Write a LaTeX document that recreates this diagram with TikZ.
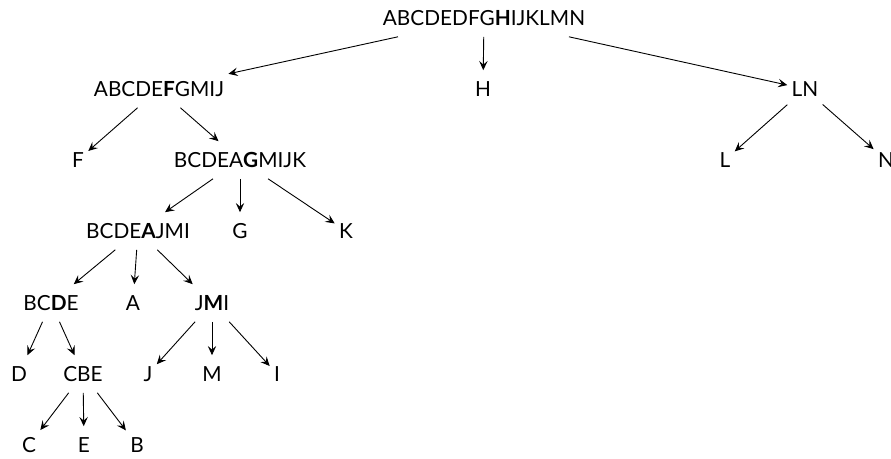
\documentclass[tikz,border=0pt]{standalone}
\usepackage{fontspec}
\setmainfont{Lato}
\usetikzlibrary{arrows.meta}
\begin{document}
\begin{tikzpicture}[x=0.5pt,y=-0.5pt,
  lbl/.style={font=\fontsize{10.4}{12}\selectfont, text height=7.4pt, text depth=0pt,
              inner xsep=2pt, inner ysep=5.5pt},
  edge/.style={-{Stealth[length=4.6pt,width=4.2pt,inset=1.8pt]}, line width=0.45pt}]
\useasboundingbox (0,0) rectangle (891,459);
% level 0
\node[lbl] (r)   at (484,18)  {ABCDEDFG\textbf{H}IJKLMN};
% level 1
\node[lbl] (a)   at (159,89)  {ABCDE\textbf{F}GMIJ};
\node[lbl] (h)   at (483,89)  {H};
\node[lbl] (ln)  at (805,89)  {LN};
% level 2
\node[lbl] (f)   at (78,160)  {F};
\node[lbl] (b)   at (240,160) {BCDEA\textbf{G}MIJK};
\node[lbl] (l)   at (725,160) {L};
\node[lbl] (n)   at (886,160) {N};
% level 3
\node[lbl] (c)   at (138,231) {BCDE\textbf{A}JMI};
\node[lbl] (g)   at (240,231) {G};
\node[lbl] (k)   at (346,231) {K};
% level 4
\node[lbl] (d)   at (51,303)  {BC\textbf{D}E};
\node[lbl] (aa)  at (133,303) {A};
\node[lbl] (jmi) at (212,303) {J\textbf{M}I};
% level 5
\node[lbl] (dd)  at (19,374)  {D};
\node[lbl] (cbe) at (83,374)  {CBE};
\node[lbl] (j)   at (148,374) {J};
\node[lbl] (m)   at (212,374) {M};
\node[lbl] (i)   at (277,374) {I};
% level 6
\node[lbl] (cc)  at (29,445)  {C};
\node[lbl] (e)   at (84,445)  {E};
\node[lbl] (bb)  at (137,445) {B};
% connectors
\draw[edge] (r) -- (a);
\draw[edge] (r) -- (h);
\draw[edge] (r) -- (ln);
\draw[edge] (a) -- (f);
\draw[edge] (a) -- (b);
\draw[edge] (ln) -- (l);
\draw[edge] (ln) -- (n);
\draw[edge] (b) -- (c);
\draw[edge] (b) -- (g);
\draw[edge] (b) -- (k);
\draw[edge] (c) -- (d);
\draw[edge] (c) -- (aa);
\draw[edge] (c) -- (jmi);
\draw[edge] (d) -- (dd);
\draw[edge] (d) -- (cbe);
\draw[edge] (jmi) -- (j);
\draw[edge] (jmi) -- (m);
\draw[edge] (jmi) -- (i);
\draw[edge] (cbe) -- (cc);
\draw[edge] (cbe) -- (e);
\draw[edge] (cbe) -- (bb);
\end{tikzpicture}
\end{document}
